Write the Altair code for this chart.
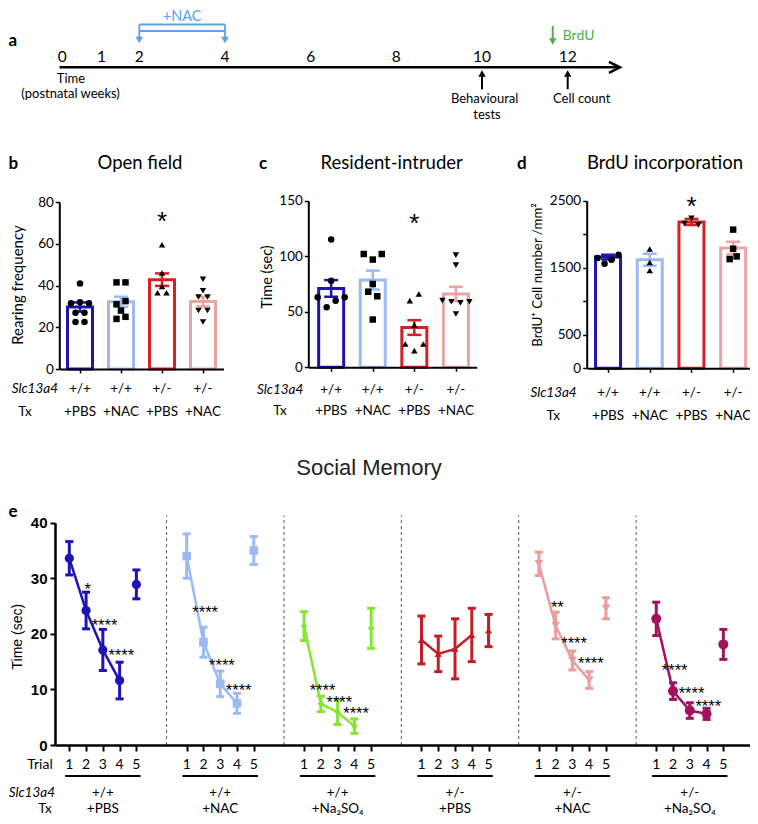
import altair as alt
import pandas as pd

# ===================== DATA =====================
# (a) timeline, postnatal weeks
tl_weeks = [0, 1, 2, 4, 6, 8, 10, 12]
nac_weeks = [2, 4]
brdu_week = 11.65
event_weeks = [10, 12]

# (b)-(d) four groups
grp_geno = ["+/+", "+/+", "+/-", "+/-"]
grp_tx = ["+PBS", "+NAC", "+PBS", "+NAC"]

of_mean = [29.7, 32.2, 42.8, 32.3]
of_sem = [2.2, 2.4, 3.0, 2.3]
of_pts = [
    [41, 31.5, 32, 31.5, 27, 27, 22.5, 22.5],
    [41.5, 41.5, 31, 32.5, 28, 24, 25],
    [59.5, 46, 39.5, 36.5, 36.5],
    [43, 37.5, 34.5, 34.5, 28, 28, 22.5],
]
of_star = 73.8

ri_mean = [71, 78.6, 35.8, 66]
ri_sem = [7.5, 8.5, 6.6, 6.5]
ri_pts = [
    [115, 78, 63, 54, 60, 63],
    [102, 97, 102, 75, 68, 64, 43],
    [60, 66, 38, 21, 15, 21],
    [101, 92, 60, 59, 58, 59, 48],
]
ri_star = 135

bu_mean = [1660, 1620, 2184, 1794]
bu_sem = [35, 90, 45, 95]
bu_pts = [
    [1645, 1560, 1620, 1695],
    [1780, 1580, 1460],
    [2160, 2240, 2140],
    [2070, 1785, 1630, 1670],
]
bu_star = 2512

# (e) social memory: 6 groups x 5 trials
sm_trials = [1, 2, 3, 4, 5]
sm_geno = ["+/+", "+/+", "+/+", "+/-", "+/-", "+/-"]
sm_tx = ["+PBS", "+NAC", "+Na\u2082SO\u2084", "+PBS", "+NAC", "+Na\u2082SO\u2084"]
sm_mean = [
    [33.6, 24.2, 17.1, 11.6, 28.9],
    [34.0, 18.5, 11.0, 7.5, 35.0],
    [21.4, 7.4, 5.9, 3.4, 21.0],
    [18.9, 16.4, 17.3, 19.8, 20.6],
    [32.6, 21.5, 15.2, 11.7, 24.6],
    [22.7, 9.7, 6.2, 5.6, 18.1],
]
sm_sem = [
    [3.0, 3.3, 3.7, 3.3, 2.6],
    [4.0, 2.7, 2.3, 1.8, 2.5],
    [2.6, 1.4, 2.2, 1.3, 3.6],
    [4.3, 3.2, 5.4, 4.8, 2.9],
    [2.1, 2.4, 1.7, 1.5, 1.9],
    [3.0, 1.5, 1.4, 1.0, 2.7],
]
sm_stars = [
    ["", "*", "****", "****", ""],
    ["", "****", "****", "****", ""],
    ["", "****", "****", "****", ""],
    ["", "", "", "", ""],
    ["", "**", "****", "****", ""],
    ["", "****", "****", "****", ""],
]
# height (sec) at which each significance label sits
sm_star_h = [
    [0, 28.7, 22.3, 16.8, 0],
    [0, 24.6, 15.1, 10.6, 0],
    [0, 10.6, 8.4, 6.3, 0],
    [0, 0, 0, 0, 0],
    [0, 25.4, 19.0, 15.3, 0],
    [0, 14.1, 9.9, 7.7, 0],
]

# ===================== LAYOUT & STYLE =====================
W, H = 742, 808
OFF = 8.0


def R(v):
    return v - OFF


LATO = "Lato"
ARIAL = "Liberation Sans"
NAC_BLUE = "#5aa2ef"
BRDU_GREEN = "#4fae4a"
bar_colors = ["#1f14b3", "#9cb9f3", "#d42027", "#eba4a4"]
sm_colors = ["#1f14b3", "#9cb9f3", "#84e630", "#c61c24", "#e99d9d", "#a1135e"]
sm_shapes = ["circle", "square", "diamond", "triangle-up", "triangle-down", "circle"]
sm_sizes = [85, 75, 45, 50, 75, 100]

dummy = pd.DataFrame({"k": [0]})


def label(x, y, text, size=13.5, font=LATO, weight="normal", style="normal",
          align="center", baseline="middle", angle=0, color="black"):
    return alt.Chart(dummy).mark_text(
        text=text, font=font, fontSize=size, fontWeight=weight, fontStyle=style,
        align=align, baseline=baseline, angle=angle, color=color
    ).encode(x=alt.value(R(x)), y=alt.value(R(y)))


def spread(vals, ppu, gap, spacing):
    n = len(vals)
    order = sorted(range(n), key=lambda i: -vals[i])
    clusters = []
    for i in order:
        if clusters and abs(vals[clusters[-1][-1]] - vals[i]) * ppu < gap:
            clusters[-1].append(i)
        else:
            clusters.append([i])
    off = [0.0] * n
    for c in clusters:
        cs = sorted(c)
        m = len(cs)
        for k, i in enumerate(cs):
            off[i] = (k - (m - 1) / 2) * spacing
    return off


layers = []

# ---------------- (a) timeline ----------------
tx = alt.Scale(domain=[0, 1, 2, 12], range=[R(62.3), R(101.6), R(139.3), R(567.7)],
               nice=False, zero=False)


def TX(f):
    return alt.X(f, type="quantitative", scale=tx, axis=None)


TL_Y = R(67.3)
wk = pd.DataFrame({"w": tl_weeks, "s": [str(w) for w in tl_weeks]})
span = pd.DataFrame({"a": [-0.07], "b": [13.22]})
nac = pd.DataFrame({"a": [nac_weeks[0]], "b": [nac_weeks[1]],
                    "mid": [sum(nac_weeks) / 2], "t": ["+NAC"]})
nacw = pd.DataFrame({"w": nac_weeks})
brdu = pd.DataFrame({"w": [brdu_week], "t": ["BrdU"]})
ev = pd.DataFrame({"w": event_weeks})

a_parts = [
    alt.Chart(wk).mark_text(font=LATO, fontSize=15.5, baseline="middle").encode(
        x=TX("w"), y=alt.value(R(57)), text="s:N"),
    alt.Chart(span).mark_rule(strokeWidth=2.5, color="black").encode(
        x=TX("a"), x2="b", y=alt.value(TL_Y)),
    alt.Chart(span).mark_point(shape="M-2,-1L0,0L-2,1", filled=False, size=121,
                               strokeWidth=2.5, color="black", opacity=1).encode(
        x=TX("b"), y=alt.value(TL_Y)),
    alt.Chart(nac).mark_rule(strokeWidth=1.8, color=NAC_BLUE).encode(
        x=TX("a"), x2="b", y=alt.value(R(24.5))),
    alt.Chart(nac).mark_rule(strokeWidth=1.8, color=NAC_BLUE).encode(
        x=TX("a"), x2="b", y=alt.value(R(31))),
    alt.Chart(nacw).mark_rule(strokeWidth=1.8, color=NAC_BLUE).encode(
        x=TX("w"), y=alt.value(R(24.5)), y2=alt.value(R(38.5))),
    alt.Chart(nacw).mark_point(shape="triangle-down", filled=True, size=60,
                               color=NAC_BLUE, opacity=1).encode(
        x=TX("w"), y=alt.value(R(40))),
    alt.Chart(nac).mark_text(font=LATO, fontSize=14.5, color=NAC_BLUE, baseline="middle").encode(
        x=TX("mid"), y=alt.value(R(16.5)), text="t:N"),
    alt.Chart(brdu).mark_rule(strokeWidth=2, color=BRDU_GREEN).encode(
        x=TX("w"), y=alt.value(R(26)), y2=alt.value(R(40))),
    alt.Chart(brdu).mark_point(shape="triangle-down", filled=True, size=55,
                               color=BRDU_GREEN, opacity=1).encode(
        x=TX("w"), y=alt.value(R(41.5))),
    alt.Chart(brdu).mark_text(font=LATO, fontSize=14, color=BRDU_GREEN, align="left",
                              baseline="middle", dx=10).encode(
        x=TX("w"), y=alt.value(R(35.7)), text="t:N"),
    alt.Chart(ev).mark_rule(strokeWidth=2, color="black").encode(
        x=TX("w"), y=alt.value(R(89.3)), y2=alt.value(R(75))),
    alt.Chart(ev).mark_point(shape="triangle-up", filled=True, size=55,
                             color="black", opacity=1).encode(
        x=TX("w"), y=alt.value(R(73.5))),
    alt.Chart(pd.DataFrame({"w": [event_weeks[0]], "t": ["Behavioural"]})).mark_text(
        font=LATO, fontSize=13, baseline="middle", dx=2.6).encode(
        x=TX("w"), y=alt.value(R(98.7)), text="t:N"),
    alt.Chart(pd.DataFrame({"w": [event_weeks[0]], "t": ["tests"]})).mark_text(
        font=LATO, fontSize=13, baseline="middle", dx=5).encode(
        x=TX("w"), y=alt.value(R(115)), text="t:N"),
    alt.Chart(pd.DataFrame({"w": [event_weeks[1]], "t": ["Cell count"]})).mark_text(
        font=LATO, fontSize=13, baseline="middle", dx=14).encode(
        x=TX("w"), y=alt.value(R(98.7)), text="t:N"),
]
layers.append(alt.layer(*a_parts))
layers.append(label(71, 79, "Time", size=13))
layers.append(label(70.6, 94, "(postnatal weeks)", size=13))


# ---------------- (b)-(d) bar panels ----------------
def bar_panel(mean, sem, pts, shapes, star_v, geo, ppu, gap, spacing, label_expr=None):
    xs = alt.Scale(domain=[geo["dom0"], 4.5], range=[R(geo["xl"]), R(geo["xr"])],
                   nice=False, zero=False)
    ys = alt.Scale(domain=[0, geo["ymax"]], range=[R(geo["y0"]), R(geo["ytop"])],
                   nice=False, zero=False)
    step = (geo["xr"] - geo["xl"]) / (4.5 - geo["dom0"])
    xaxis = alt.Axis(orient="bottom", offset=R(geo["y0"]) - H, values=[1, 2, 3, 4],
                     labels=False, title=None, grid=False, tickSize=4, tickWidth=1.5,
                     tickColor="black", domainColor="black", domainWidth=2, zindex=1)
    ykw = dict(orient="left", offset=-R(geo["ax"]), values=geo["yticks"], title=None,
               grid=False, tickSize=4, tickWidth=1.5, tickColor="black", format="d",
               domainColor="black", domainWidth=2, labelFont=LATO, labelFontSize=13.5,
               labelColor="black", labelPadding=2, zindex=1)
    if label_expr:
        ykw["labelExpr"] = label_expr
    yaxis = alt.Axis(**ykw)

    def X(f):
        return alt.X(f, type="quantitative", scale=xs, axis=xaxis)

    def Y(f):
        return alt.Y(f, type="quantitative", scale=ys, axis=yaxis)

    idx = [1, 2, 3, 4]
    bw = 12.5 / step
    cw = 7.0 / step
    bars = pd.DataFrame({
        "i": idx, "l": [i - bw for i in idx], "r": [i + bw for i in idx],
        "base": [0] * 4, "m": mean,
        "lo": [m - s for m, s in zip(mean, sem)], "hi": [m + s for m, s in zip(mean, sem)],
        "cl": [i - cw for i in idx], "cr": [i + cw for i in idx],
        "col": bar_colors, "geno": grp_geno, "tx": grp_tx,
    })
    rows = []
    for gi, vals in enumerate(pts):
        offs = spread(vals, ppu, gap, spacing)
        for v, o in zip(vals, offs):
            rows.append({"px": idx[gi] + o / step, "v": v, "shp": shapes[gi]})
    pdf = pd.DataFrame(rows)
    star = pd.DataFrame({"i": [3], "v": [star_v], "t": ["*"]})
    parts = [
        alt.Chart(bars).mark_rect(fill="white", strokeWidth=3).encode(
            x=X("l"), x2="r", y=Y("base"), y2="m",
            stroke=alt.Stroke("col:N", scale=None)),
        alt.Chart(bars).mark_rule(strokeWidth=2.5).encode(
            x=X("i"), y=Y("lo"), y2="hi", stroke=alt.Stroke("col:N", scale=None)),
        alt.Chart(bars).mark_rule(strokeWidth=2.5).encode(
            x=X("cl"), x2="cr", y=Y("hi"), stroke=alt.Stroke("col:N", scale=None)),
        alt.Chart(bars).mark_rule(strokeWidth=2.5).encode(
            x=X("cl"), x2="cr", y=Y("lo"), stroke=alt.Stroke("col:N", scale=None)),
        alt.Chart(pdf).mark_point(filled=True, size=42, color="black", opacity=1,
                                  strokeWidth=0).encode(
            x=X("px"), y=Y("v"), shape=alt.Shape("shp:N", scale=None)),
        alt.Chart(star).mark_text(font=ARIAL, fontSize=26, baseline="alphabetic", dy=15).encode(
            x=X("i"), y=Y("v"), text="t:N"),
        alt.Chart(bars).mark_text(font=LATO, fontSize=13.5, baseline="middle").encode(
            x=X("i"), y=alt.value(R(geo["gy"])), text="geno:N"),
        alt.Chart(bars).mark_text(font=LATO, fontSize=13.5, baseline="middle").encode(
            x=X("i"), y=alt.value(R(geo["ty"])), text="tx:N"),
    ]
    return alt.layer(*parts)


geo_b = dict(ax=59.3, xl=59.5, xr=223.5, dom0=0.5, y0=369, ytop=202, ymax=80,
             yticks=[0, 20, 40, 60, 80], gy=389.3, ty=411.7)
geo_c = dict(ax=308.3, xl=308.3, xr=476.7, dom0=0.45, y0=367.3, ytop=200.7, ymax=150,
             yticks=[0, 50, 100, 150], gy=390, ty=410.7)
geo_d = dict(ax=586.7, xl=587.2, xr=754, dom0=0.5, y0=368.3, ytop=200.8, ymax=2500,
             yticks=[0, 500, 1000, 1500, 2000, 2500], gy=393.3, ty=416)

layers.append(bar_panel(of_mean, of_sem, of_pts,
                        ["circle", "square", "triangle-up", "triangle-down"],
                        of_star, geo_b, 2.0875, 6, 9))
layers.append(bar_panel(ri_mean, ri_sem, ri_pts,
                        ["circle", "square", "triangle-up", "triangle-down"],
                        ri_star, geo_c, 1.111, 7, 9))
layers.append(bar_panel(bu_mean, bu_sem, bu_pts,
                        ["circle", "triangle-up", "triangle-down", "square"],
                        bu_star, geo_d, 0.067, 6, 7,
                        label_expr="datum.value == 1000 || datum.value == 2000 ? '' : datum.label"))

# panel titles, letters, y titles, row labels
layers += [
    label(8.5, 41, "a", size=17, weight="bold", align="left"),
    label(8.5, 164, "b", size=17, weight="bold", align="left"),
    label(259, 164, "c", size=17, weight="bold", align="left"),
    label(517, 164, "d", size=17, weight="bold", align="left"),
    label(8.5, 512, "e", size=17, weight="bold", align="left"),
    label(140, 163.3, "Open field", size=18.5),
    label(391.7, 163, "Resident-intruder", size=18.5),
    label(665, 163.3, "BrdU incorporation", size=18.5),
    label(18, 285, "Rearing frequency", size=15, angle=270),
    label(268.3, 277, "Time (sec)", size=14.5, angle=270),
    label(538.3, 275, "BrdU\u207a Cell number /mm\u00b2", size=13.3, angle=270),
    label(58, 389.3, "Slc13a4", size=13.5, style="italic", align="right"),
    label(25, 411.7, "Tx", size=13.5),
    label(303.3, 390, "Slc13a4", size=13.5, style="italic", align="right"),
    label(280, 410.7, "Tx", size=13.5),
    label(576.7, 393.3, "Slc13a4", size=13.5, style="italic", align="right"),
    label(553.3, 416, "Tx", size=13.5),
    label(369, 468.3, "Social Memory", size=22, font=ARIAL, color="#222222"),
    label(18, 636.7, "Time (sec)", size=14, font=ARIAL, angle=270),
    label(40, 765, "Trial", size=14),
    label(55, 793.3, "Slc13a4", size=13.5, style="italic", align="right"),
    label(45, 808.5, "Tx", size=13.5),
]

# ---------------- (e) social memory ----------------
xe = alt.Scale(domain=[0.147, 41.59], range=[R(55), R(750)], nice=False, zero=False)
ye = alt.Scale(domain=[0, 40], range=[R(745), R(522.7)], nice=False, zero=False)
ex_axis = alt.Axis(orient="bottom", offset=R(745) - H,
                   values=[7 * g + t for g in range(6) for t in sm_trials],
                   labels=False, title=None, grid=False, tickSize=6, tickWidth=2,
                   tickColor="black", domainColor="black", domainWidth=2.5, zindex=1)
ey_axis = alt.Axis(orient="left", offset=-R(55), values=[0, 10, 20, 30, 40], title=None,
                   grid=False, tickSize=5, tickWidth=2, tickColor="black",
                   domainColor="black", domainWidth=2.5, labelFont=ARIAL,
                   labelFontWeight="bold", labelFontSize=15, labelColor="black",
                   labelPadding=3, zindex=1)


def XE(f):
    return alt.X(f, type="quantitative", scale=xe, axis=ex_axis)


def YE(f):
    return alt.Y(f, type="quantitative", scale=ye, axis=ey_axis)


cap_half = 0.24
rows = []
for g in range(6):
    for k, t in enumerate(sm_trials):
        v = 7 * g + t
        m = sm_mean[g][k]
        s = sm_sem[g][k]
        rows.append(dict(g=g, t=t, v=v, m=m, lo=m - s, hi=m + s, cl=v - cap_half,
                         cr=v + cap_half, col=sm_colors[g], shp=sm_shapes[g],
                         sz=sm_sizes[g], star=sm_stars[g][k], sx=v + 0.1,
                         sy=sm_star_h[g][k], lab=str(t)))
e_df = pd.DataFrame(rows)
line_df = e_df[e_df.t <= 4]
star_df = e_df[e_df.star != ""]
sep_df = pd.DataFrame({"v": [7 * g + 6.8 for g in range(5)], "y0": [0] * 5, "y1": [41.3] * 5})
grp_df = pd.DataFrame({"a": [7 * g + 0.75 for g in range(6)], "b": [7 * g + 5.25 for g in range(6)],
                       "c": [7 * g + 3 for g in range(6)], "geno": sm_geno, "tx": sm_tx})

e_parts = [
    alt.Chart(sep_df).mark_rule(strokeDash=[3, 3], color="#555555", strokeWidth=1).encode(
        x=XE("v"), y=YE("y0"), y2="y1"),
    alt.Chart(line_df).mark_line(strokeWidth=2.5).encode(
        x=XE("v"), y=YE("m"), detail="g:N", order="t:Q",
        stroke=alt.Stroke("col:N", scale=None)),
    alt.Chart(e_df).mark_rule(strokeWidth=3).encode(
        x=XE("v"), y=YE("lo"), y2="hi", stroke=alt.Stroke("col:N", scale=None)),
    alt.Chart(e_df).mark_rule(strokeWidth=3).encode(
        x=XE("cl"), x2="cr", y=YE("hi"), stroke=alt.Stroke("col:N", scale=None)),
    alt.Chart(e_df).mark_rule(strokeWidth=3).encode(
        x=XE("cl"), x2="cr", y=YE("lo"), stroke=alt.Stroke("col:N", scale=None)),
    alt.Chart(e_df).mark_point(filled=True, opacity=1, strokeWidth=0).encode(
        x=XE("v"), y=YE("m"), shape=alt.Shape("shp:N", scale=None),
        fill=alt.Fill("col:N", scale=None), size=alt.Size("sz:Q", scale=None)),
    alt.Chart(star_df).mark_text(font=ARIAL, fontSize=16.5, baseline="alphabetic", dy=9.5).encode(
        x=XE("sx"), y=YE("sy"), text="star:N"),
    alt.Chart(e_df).mark_text(font=LATO, fontSize=14, baseline="middle").encode(
        x=XE("v"), y=alt.value(R(765)), text="lab:N"),
    alt.Chart(grp_df).mark_rule(strokeWidth=1.8, color="black").encode(
        x=XE("a"), x2="b", y=alt.value(R(776))),
    alt.Chart(grp_df).mark_text(font=LATO, fontSize=13.5, baseline="middle").encode(
        x=XE("c"), y=alt.value(R(793.3)), text="geno:N"),
    alt.Chart(grp_df).mark_text(font=LATO, fontSize=13.5, baseline="middle").encode(
        x=XE("c"), y=alt.value(R(808.5)), text="tx:N"),
]
layers.append(alt.layer(*e_parts))

chart = alt.layer(*layers).resolve_scale(
    x="independent", y="independent"
).properties(
    width=W, height=H, padding=0, autosize=alt.AutoSizeParams(type="none")
).configure_view(stroke=None)

chart.save("out.html", embed_options={"renderer": "svg", "actions": False})
